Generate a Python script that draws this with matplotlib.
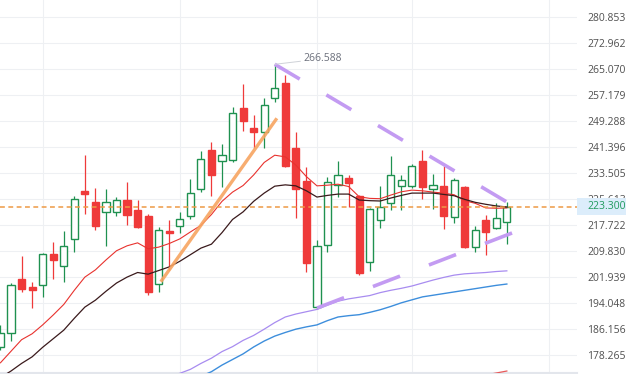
import matplotlib.pyplot as plt
import matplotlib.transforms as mtransforms
from matplotlib.patches import Rectangle

# daily candles (oldest -> newest)
opens = [180.8, 185.0, 201.4, 199.0, 199.6, 209.0, 205.4, 213.6, 228.1, 224.8,
         221.8, 221.8, 225.4, 222.4, 220.6, 199.9, 216.0, 217.5, 220.6, 228.7,
         240.6, 237.2, 237.5, 253.3, 247.3, 246.0, 256.4, 260.9, 241.2, 231.2,
         192.9, 211.8, 230.0, 232.1, 226.6, 206.6, 219.3, 224.5, 229.7, 229.7,
         237.2, 228.7, 229.7, 220.2, 229.4, 211.1, 219.3, 216.9, 218.7]
highs = [187.5, 200.2, 208.4, 200.5, 209.3, 212.7, 216.0, 226.6, 239.1, 229.1,
         228.7, 226.3, 230.9, 225.4, 221.2, 217.2, 219.3, 221.8, 231.8, 240.3,
         243.0, 242.4, 253.6, 260.6, 251.2, 256.4, 266.588, 263.3, 246.0, 235.4,
         213.3, 232.4, 237.2, 233.0, 226.9, 223.0, 229.7, 238.8, 233.0, 236.3,
         240.6, 233.3, 235.7, 232.1, 229.6, 217.5, 220.9, 224.5, 224.8]
lows = [180.0, 182.6, 197.5, 192.6, 196.0, 201.4, 200.5, 209.6, 221.2, 216.3,
        211.4, 220.6, 217.8, 216.9, 196.6, 197.5, 204.2, 215.4, 219.6, 227.8,
        226.6, 229.4, 236.9, 246.4, 241.2, 241.2, 255.2, 235.4, 219.9, 203.6,
        192.3, 209.6, 226.3, 223.3, 202.6, 203.9, 216.9, 222.4, 222.4, 229.1,
        225.7, 222.7, 216.6, 218.4, 210.8, 209.6, 208.7, 216.6, 212.1]
closes = [185.0, 199.6, 198.4, 198.1, 209.0, 207.2, 211.4, 225.7, 227.2, 217.5,
          224.8, 225.4, 220.9, 217.2, 197.5, 216.3, 215.4, 219.6, 227.5, 237.9,
          233.0, 239.1, 251.8, 249.4, 246.0, 254.2, 259.4, 235.7, 228.7, 206.3,
          211.4, 230.9, 233.0, 230.6, 203.3, 222.7, 223.3, 233.0, 231.5, 235.7,
          229.4, 230.0, 220.6, 231.5, 211.1, 216.3, 215.7, 219.9, 223.3]

# moving averages
ma_red = [176.0, 179.5, 183.0, 184.8, 187.5, 190.5, 193.7, 198.0, 202.0, 204.2,
          207.2, 210.0, 211.5, 212.4, 210.6, 211.1, 212.2, 213.6, 215.7, 217.7,
          221.0, 225.0, 227.8, 229.8, 233.0, 236.8, 239.0, 238.5, 236.0, 232.5,
          229.7, 229.9, 230.2, 229.5, 226.4, 225.9, 225.8, 226.9, 227.9, 228.4,
          228.2, 227.8, 227.5, 227.0, 225.2, 224.4, 223.0, 222.9, 223.0]
ma_dark = [171.5, 173.5, 175.8, 177.8, 180.7, 183.3, 185.9, 189.5, 192.9, 195.0,
           197.7, 200.2, 202.0, 203.4, 202.9, 204.0, 205.1, 206.8, 208.8, 210.8,
           212.0, 215.5, 219.5, 221.8, 225.0, 227.5, 229.6, 230.0, 229.7, 228.2,
           226.3, 226.8, 227.2, 227.2, 225.4, 225.2, 225.1, 226.0, 226.8, 227.5,
           227.5, 227.5, 227.1, 226.7, 225.6, 224.7, 224.1, 223.6, 223.3]
ma_purple_start = 15
ma_purple = [170.9, 171.8, 172.8, 174.0, 175.8, 177.4, 179.4, 180.9, 182.8, 184.3,
             186.2, 188.2, 189.9, 190.8, 191.5, 192.2, 193.5, 194.7, 195.4, 195.9,
             196.4, 197.3, 198.0, 198.6, 199.3, 200.2, 201.1, 201.9, 202.6, 203.0,
             203.2, 203.4, 203.7, 203.9]
ma_blue_start = 18
ma_blue = [170.8, 171.9, 173.3, 175.3, 177.0, 178.7, 180.8, 182.6, 184.1, 185.2,
           186.2, 186.9, 187.5, 188.8, 189.9, 190.3, 190.6, 191.3, 192.1, 193.1,
           194.2, 195.1, 196.0, 196.5, 197.0, 197.5, 198.0, 198.5, 199.0, 199.5,
           199.9]
ma_long_start = 44
ma_long = [171.0, 171.6, 172.3, 172.9, 173.5]

price_ticks = [280.853, 272.962, 265.070, 257.179, 249.288, 241.396, 233.505,
               225.613, 217.722, 209.830, 201.939, 194.048, 186.156, 178.265]
time_grid = [4, 17, 30, 39, 52]
last_price = 223.300
peak_idx = 26
peak_price = 266.588

# drawn trend lines (bar index, price)
trend_x, trend_y = [15.2, 26.2], [200.6, 250.2]
wedge_top_x, wedge_top_y = [26.0, 48.0], [266.6, 224.8]
wedge_bot_x, wedge_bot_y = [30.0, 48.5], [192.6, 215.4]

plt.rcParams['lines.scale_dashes'] = False

fig = plt.figure(figsize=(6.26, 3.74), dpi=100)
ax = fig.add_axes([0, 1 / 374, 577 / 626, 373 / 374])

green = '#1f9150'
red = '#ef3a3a'
w = 0.68

# candles
for i in range(len(opens)):
    o, h, l, c = opens[i], highs[i], lows[i], closes[i]
    up = c >= o
    col = green if up else red
    ax.vlines(i, l, h, color=col, lw=0.9, zorder=2)
    ax.add_patch(Rectangle((i - w / 2, min(o, c)), w, max(abs(c - o), 0.3),
                           facecolor='white' if up else red, edgecolor=col,
                           lw=1.0, zorder=3))

# moving averages
ax.plot(range(len(ma_red)), ma_red, color='#e8322e', lw=0.8, zorder=4)
ax.plot(range(len(ma_dark)), ma_dark, color='#3a1a1c', lw=0.9, zorder=4)
ax.plot(range(ma_purple_start, ma_purple_start + len(ma_purple)), ma_purple,
        color='#a88cf0', lw=0.9, zorder=4)
ax.plot(range(ma_blue_start, ma_blue_start + len(ma_blue)), ma_blue,
        color='#3d8edc', lw=1.0, zorder=4)
ax.plot(range(ma_long_start, ma_long_start + len(ma_long)), ma_long,
        color='#e85a5a', lw=0.9, zorder=4)

# last price line
ax.axhline(last_price, color='#ee9a45', lw=1.1, ls=(0, (3.5, 2.5)), zorder=5)

# drawings
ax.plot(trend_x, trend_y, color='#f7a461', lw=2.4, alpha=0.9,
        solid_capstyle='butt', zorder=6)
for xs, ys in [(wedge_top_x, wedge_top_y), (wedge_bot_x, wedge_bot_y)]:
    ax.plot(xs, ys, color='#c39bf2', lw=2.6, ls=(0, (20.9, 22.3)),
            dash_capstyle='butt', zorder=6)

# peak label
ax.annotate(f'{peak_price:.3f}', xy=(peak_idx, peak_price), xytext=(28.7, 268.3),
            fontsize=7.5, family='Open Sans', color='#6b6f7b', ha='left', va='center',
            arrowprops=dict(arrowstyle='-', color='#cfd2d8', lw=0.7,
                            shrinkA=0, shrinkB=0), zorder=7)

ax.set_xlim(-0.0427, 54.65)
ax.set_ylim(172.90, 286.104)

ax.set_yticks(price_ticks)
ax.set_yticklabels([f'{v:.3f}' for v in price_ticks])
ax.yaxis.tick_right()
ax.tick_params(axis='y', length=0, pad=7.2, labelsize=7.5, labelcolor='#505050')
for lab in ax.get_yticklabels():
    lab.set_family('Open Sans')
ax.set_xticks(time_grid)
ax.tick_params(axis='x', length=0, labelbottom=False)
ax.grid(True, color='#eef0f3', lw=0.8)
ax.set_axisbelow(True)

for s in ['top', 'left', 'right']:
    ax.spines[s].set_visible(False)
ax.spines['bottom'].set_color('#e3e6ec')
ax.spines['bottom'].set_linewidth(1.5)

# last price badge on the scale
blend = mtransforms.blended_transform_factory(ax.transAxes, ax.transData)
ax.add_patch(Rectangle((1.0, last_price - 2.58), 49 / 577, 5.16, transform=blend,
                       facecolor='#dcedfb', edgecolor='none', clip_on=False, zorder=8))
ax.text(1 + 10 / 577, last_price, f'{last_price:.3f}', transform=blend,
        fontsize=7.5, family='Open Sans', color='#1f9a5c', ha='left', va='center',
        clip_on=False, zorder=9)

fig.savefig('out.png', dpi=100)
